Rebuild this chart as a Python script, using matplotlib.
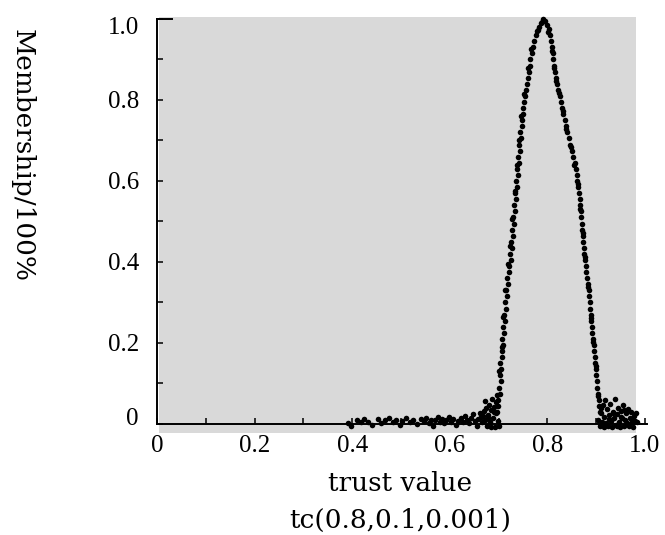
import numpy as np
import matplotlib
matplotlib.use('Agg')
import matplotlib.pyplot as plt
import matplotlib.transforms as mtransforms
from matplotlib.patches import Rectangle
from matplotlib.ticker import MultipleLocator

# 左侧上升沿 (x, y)
rise_x = [0.696, 0.699, 0.698, 0.702, 0.700, 0.704, 0.702, 0.705, 0.703, 0.707,
          0.706, 0.709, 0.707, 0.711, 0.709, 0.713, 0.711, 0.715, 0.713, 0.717,
          0.716, 0.720, 0.718, 0.722, 0.721, 0.725, 0.723, 0.727, 0.726, 0.729,
          0.728, 0.731, 0.730, 0.733, 0.732, 0.735, 0.734, 0.737, 0.736, 0.739,
          0.738, 0.741, 0.740, 0.743, 0.742, 0.745, 0.744, 0.747, 0.747, 0.750,
          0.750, 0.753, 0.754, 0.757, 0.758, 0.761, 0.762, 0.764, 0.765, 0.768,
          0.770, 0.773, 0.776, 0.779, 0.783, 0.787, 0.791]
rise_y = [0.030, 0.045, 0.060, 0.075, 0.090, 0.105, 0.120, 0.135, 0.150, 0.165,
          0.180, 0.195, 0.210, 0.225, 0.240, 0.255, 0.270, 0.285, 0.300, 0.315,
          0.330, 0.345, 0.360, 0.375, 0.390, 0.405, 0.420, 0.435, 0.450, 0.465,
          0.480, 0.495, 0.510, 0.525, 0.540, 0.555, 0.570, 0.585, 0.600, 0.615,
          0.630, 0.645, 0.660, 0.675, 0.690, 0.705, 0.720, 0.735, 0.750, 0.765,
          0.780, 0.795, 0.810, 0.825, 0.840, 0.855, 0.870, 0.885, 0.900, 0.915,
          0.930, 0.945, 0.960, 0.970, 0.980, 0.990, 1.000]

# 上升沿的第二列点
rise2_x = [0.694, 0.701, 0.706, 0.710, 0.714, 0.719, 0.724, 0.728, 0.733, 0.737,
           0.741, 0.746, 0.752, 0.760, 0.767, 0.781, 0.789]
rise2_y = [0.055, 0.130, 0.190, 0.265, 0.330, 0.395, 0.440, 0.505, 0.575, 0.640,
           0.700, 0.760, 0.815, 0.880, 0.925, 0.972, 0.993]

# 右侧下降沿
fall_x = [0.795, 0.799, 0.803, 0.806, 0.808, 0.810, 0.811, 0.812, 0.814, 0.815,
          0.818, 0.819, 0.822, 0.825, 0.827, 0.830, 0.833, 0.836, 0.838, 0.841,
          0.844, 0.847, 0.850, 0.853, 0.856, 0.858, 0.860, 0.861, 0.863, 0.864,
          0.866, 0.867, 0.868, 0.869, 0.870, 0.871, 0.873, 0.874, 0.875, 0.876,
          0.878, 0.879, 0.880, 0.882, 0.883, 0.885, 0.886, 0.887, 0.888, 0.889,
          0.890, 0.891, 0.892, 0.894, 0.895, 0.896, 0.897, 0.898, 0.899, 0.900,
          0.901, 0.902, 0.903, 0.905, 0.906, 0.908]
fall_y = [0.995, 0.985, 0.975, 0.960, 0.945, 0.930, 0.915, 0.900, 0.885, 0.870,
          0.855, 0.840, 0.825, 0.810, 0.795, 0.780, 0.765, 0.750, 0.735, 0.720,
          0.705, 0.690, 0.675, 0.660, 0.645, 0.630, 0.615, 0.600, 0.585, 0.570,
          0.555, 0.540, 0.525, 0.510, 0.495, 0.480, 0.465, 0.450, 0.435, 0.420,
          0.405, 0.390, 0.375, 0.360, 0.345, 0.330, 0.315, 0.300, 0.285, 0.270,
          0.255, 0.240, 0.225, 0.210, 0.195, 0.180, 0.165, 0.150, 0.135, 0.120,
          0.105, 0.090, 0.075, 0.060, 0.045, 0.030]

fall2_x = [0.802, 0.809, 0.813, 0.817, 0.824, 0.831, 0.839, 0.848, 0.855, 0.862,
           0.866, 0.872, 0.877, 0.884, 0.889, 0.893, 0.899, 0.904]
fall2_y = [0.968, 0.922, 0.878, 0.848, 0.818, 0.772, 0.728, 0.683, 0.640, 0.592,
           0.532, 0.472, 0.412, 0.338, 0.262, 0.202, 0.142, 0.068]

# 左侧底部噪声
noise_l_x = [0.392, 0.398, 0.410, 0.418, 0.425, 0.433, 0.440, 0.452, 0.460, 0.468,
             0.475, 0.483, 0.490, 0.497, 0.503, 0.510, 0.518, 0.525, 0.532, 0.540,
             0.548, 0.552, 0.557, 0.562, 0.566, 0.570, 0.575, 0.580, 0.584, 0.588,
             0.593, 0.598, 0.602, 0.607, 0.612, 0.617, 0.622, 0.627, 0.632, 0.636,
             0.640, 0.644, 0.648, 0.652, 0.655, 0.658, 0.661, 0.664, 0.667, 0.670,
             0.672, 0.674, 0.676, 0.678, 0.680, 0.682, 0.684, 0.686, 0.688, 0.690,
             0.692, 0.694, 0.696, 0.698, 0.700, 0.673, 0.679, 0.685, 0.691, 0.668]
noise_l_y = [0.002, -0.006, 0.010, 0.004, 0.013, 0.006, -0.002, 0.012, 0.003, 0.009,
             0.016, 0.005, 0.011, -0.003, 0.008, 0.014, 0.004, 0.010, 0.001, 0.012,
             0.007, 0.015, 0.003, 0.011, -0.004, 0.009, 0.017, 0.006, 0.013, 0.002,
             0.010, 0.018, 0.005, 0.012, -0.002, 0.008, 0.015, 0.004, 0.020, 0.010,
             0.003, 0.016, 0.024, 0.008, -0.005, 0.012, 0.028, 0.018, 0.004, 0.032,
             0.010, 0.040, -0.006, 0.022, 0.048, 0.006, 0.034, 0.062, 0.014, 0.042,
             -0.008, 0.026, 0.072, 0.008, -0.004, 0.056, 0.016, -0.007, 0.030, 0.020]

# 右侧底部噪声
noise_r_x = [0.904, 0.907, 0.909, 0.911, 0.913, 0.915, 0.917, 0.919, 0.921, 0.923,
             0.925, 0.927, 0.929, 0.931, 0.933, 0.935, 0.937, 0.939, 0.941, 0.943,
             0.945, 0.947, 0.949, 0.951, 0.953, 0.955, 0.957, 0.959, 0.961, 0.963,
             0.965, 0.967, 0.969, 0.971, 0.973, 0.975, 0.977, 0.979, 0.981, 0.983,
             0.910, 0.918, 0.926, 0.934, 0.942, 0.950, 0.958, 0.966, 0.974]
noise_r_y = [0.010, -0.006, 0.028, 0.004, 0.046, -0.008, 0.018, 0.058, 0.002, 0.036,
             -0.004, 0.022, 0.050, 0.008, -0.008, 0.030, 0.014, 0.062, -0.002, 0.024,
             0.040, 0.006, -0.007, 0.032, 0.016, 0.048, -0.004, 0.010, 0.026, 0.002,
             0.038, -0.006, 0.014, 0.030, 0.004, -0.008, 0.020, 0.008, 0.028, 0.004,
             0.040, -0.002, 0.012, 0.026, -0.006, 0.018, 0.034, 0.000, 0.012]

x_ticks = [0, 0.2, 0.4, 0.6, 0.8, 1.0]
x_tick_labels = ['0', '0.2', '0.4', '0.6', '0.8', '1.0']
y_ticks = [0, 0.2, 0.4, 0.6, 0.8, 1.0]
y_tick_labels = ['0', '0.2', '0.4', '0.6', '0.8', '1.0']

xs = np.concatenate([rise_x, rise2_x, fall_x, fall2_x, noise_l_x, noise_r_x])
ys = np.concatenate([rise_y, rise2_y, fall_y, fall2_y, noise_l_y, noise_r_y])

plt.rcParams.update({
    'font.family': ['Liberation Serif', 'DejaVu Serif'],
    'xtick.direction': 'in',
    'ytick.direction': 'in',
    'xtick.major.size': 4,
    'ytick.major.size': 4,
    'xtick.minor.size': 4,
    'ytick.minor.size': 4,
    'xtick.major.width': 1.1,
    'ytick.major.width': 1.1,
    'xtick.minor.width': 1.1,
    'ytick.minor.width': 1.1,
})

fig = plt.figure(figsize=(6.65, 5.35), dpi=100)
ax = fig.add_axes([0.2361, 0.2075, 0.7338, 0.757])
ax.set_facecolor('none')
ax.add_patch(Rectangle((0.004, -0.022), 0.978, 1.027, transform=ax.transData,
                       facecolor='#d9d9d9', edgecolor='none', zorder=0, clip_on=False))

ax.scatter(xs, ys, s=16, c='black', marker='o', linewidths=0, zorder=3, clip_on=False)

ax.set_xlim(0, 1.0)
ax.set_ylim(0, 1.0)
ax.spines['top'].set_visible(False)
ax.spines['right'].set_visible(False)
for side in ['left', 'bottom']:
    ax.spines[side].set_linewidth(1.4)
    ax.spines[side].set_color('black')
    ax.spines[side].set_zorder(5)
ax.spines['bottom'].set_bounds(0, 1.004)

ax.set_xticks(x_ticks)
ax.set_xticklabels(x_tick_labels)
ax.set_yticks(y_ticks)
ax.set_yticklabels(y_tick_labels)
ax.xaxis.set_minor_locator(MultipleLocator(0.1))
ax.yaxis.set_minor_locator(MultipleLocator(0.1))
ax.tick_params(axis='both', labelsize=18)
ax.tick_params(axis='y', pad=13)
ax.tick_params(axis='x', pad=8)

# 首尾两个 y 刻度标签稍微往里挪
ylabels = ax.get_yticklabels()
ylabels[0].set_transform(ylabels[0].get_transform() +
                         mtransforms.ScaledTranslation(0, 7 / 100, fig.dpi_scale_trans))
ylabels[-1].set_transform(ylabels[-1].get_transform() +
                          mtransforms.ScaledTranslation(0, -7 / 100, fig.dpi_scale_trans))

# y轴顶部的长刻度
ax.plot([0, 0.03], [1.0, 1.0], color='black', lw=1.4, clip_on=False, zorder=5)

fig.text(0.033, 0.71, 'Membership/100%', rotation=270, ha='center', va='center',
         fontsize=19, family='DejaVu Serif')
fig.text(0.602, 0.097, 'trust value', ha='center', va='center', fontsize=19,
         family='DejaVu Serif')
fig.text(0.602, 0.028, 'tc(0.8,0.1,0.001)', ha='center', va='center', fontsize=19,
         family='DejaVu Serif')

fig.savefig('out.png', dpi=100)
